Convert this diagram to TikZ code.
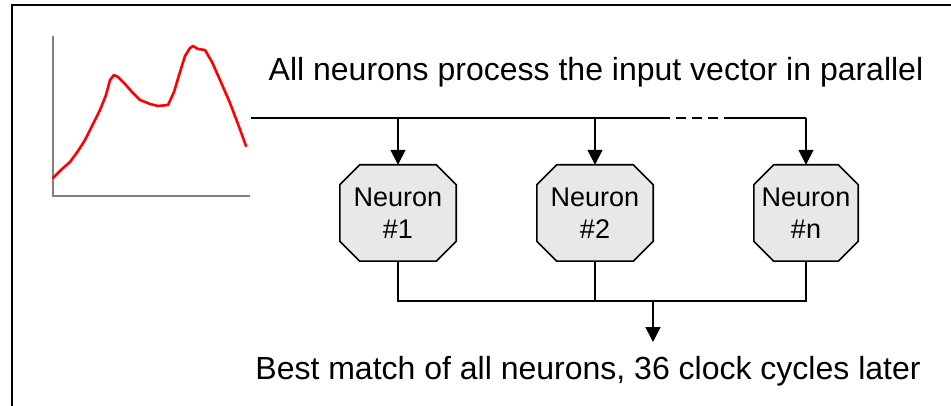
\documentclass[tikz,border=0pt]{standalone}
\usepackage{fontspec}
\setmainfont{Liberation Sans}
\usetikzlibrary{arrows.meta,backgrounds}
\newcommand\octobox[1]{%
  \draw[octo] ([xshift=20pt]#1.north west) -- ([xshift=-20pt]#1.north east)
    -- ([yshift=-20pt]#1.north east) -- ([yshift=20pt]#1.south east)
    -- ([xshift=-20pt]#1.south east) -- ([xshift=20pt]#1.south west)
    -- ([yshift=20pt]#1.south west) -- ([yshift=-20pt]#1.north west) -- cycle;}
\begin{document}
\begin{tikzpicture}[x=1pt,y=-1pt,
  wire/.style={line width=1.6pt},
  flow/.style={wire,-{Triangle[width=15pt,length=15pt]}},
  octo/.style={draw, line width=1.6pt, fill=black!9, line join=miter},
  neuron/.style={rectangle, minimum height=96pt, inner sep=0pt, align=center,
    font=\fontsize{27}{32}\selectfont},
  caption/.style={font=\fontsize{32}{36}\selectfont, inner sep=0pt}]
\useasboundingbox (0,0) rectangle (951,406);
\begin{scope}
  \clip (0,0) rectangle (951,406);
  \draw[line width=1.5pt] (12,5) rectangle (980,430);
\end{scope}

% spectrum plot
\draw[gray, line width=1.4pt] (53,36) -- (53,196) -- (250,196);
\draw[red, line width=2.6pt, line join=round, line cap=round]
  (53,178) -- (62,169) -- (70,162) -- (78,151) -- (85,140) -- (93,124)
  -- (100,110) -- (106,95) -- (110,80) -- (114,75) -- (118,77) -- (125,84)
  -- (132,92) -- (140,100) -- (150,104) -- (158,106) -- (168,105)
  -- (174,92) -- (180,72) -- (185,56) -- (190,48) -- (193,46) -- (198,49)
  -- (205,50) -- (212,62) -- (220,80) -- (230,103) -- (238,124) -- (246,146);

% captions
\node[caption] (top) at (596,72) {All neurons process the input vector in parallel};
\node[caption] (bottom) at (588,371) {Best match of all neurons, 36 clock cycles later};

% neurons
\node[neuron, minimum width=116pt] (n1) at (398,213) {Neuron\\\#1};
\node[neuron, minimum width=116pt] (n2) at (595,213) {Neuron\\\#2};
\node[neuron, minimum width=104pt] (nn) at (806,213) {Neuron\\\#n};
\begin{scope}[on background layer]
  \octobox{n1}
  \octobox{n2}
  \octobox{nn}
\end{scope}

% input bus
\coordinate (busL) at (251,118);
\coordinate (dashA) at (660,118);
\coordinate (dashB) at (732,118);
\coordinate (busR) at (nn.north |- busL);
\draw[wire] (busL) -- (dashA);
\draw[wire, dash pattern=on 10pt off 6pt] (dashA) -- (dashB);
\draw[wire] (dashB) -- (busR);
\draw[flow] (n1.north |- busL) -- (n1.north);
\draw[flow] (n2.north |- busL) -- (n2.north);
\draw[flow] (busR) -- (nn.north);

% output bus
\coordinate (outL) at (n1.south |- 0,301);
\coordinate (outR) at (nn.south |- 0,301);
\coordinate (outM) at (653,301);
\coordinate (outTip) at (653,342);
\draw[wire] (n1.south) -- (outL) -- (outR) -- (nn.south);
\draw[wire] (n2.south) -- (n2.south |- outL);
\draw[flow] (outM) -- (outTip);
\end{tikzpicture}
\end{document}
